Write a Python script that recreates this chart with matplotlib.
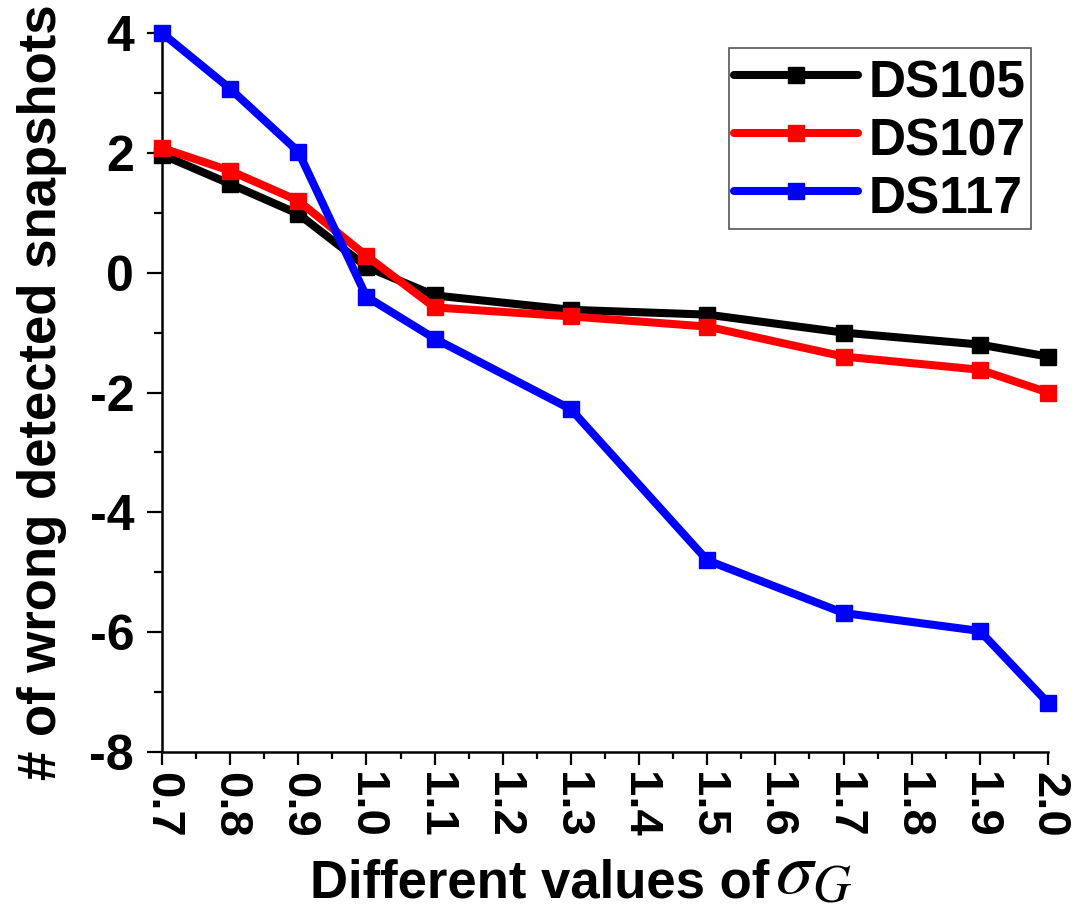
import matplotlib
matplotlib.use("Agg")
import matplotlib.pyplot as plt
from matplotlib.ticker import MultipleLocator

plt.rcParams['font.family'] = ['Liberation Sans', 'DejaVu Sans']
plt.rcParams['mathtext.fontset'] = 'stix'

sigma_g = [0.7, 0.8, 0.9, 1.0, 1.1, 1.3, 1.5, 1.7, 1.9, 2.0]
ds105 = [1.97, 1.48, 0.98, 0.1, -0.38, -0.62, -0.7, -1.0, -1.2, -1.4]
ds107 = [2.08, 1.7, 1.2, 0.28, -0.58, -0.73, -0.9, -1.4, -1.62, -2.0]
ds117 = [4.0, 3.07, 2.02, -0.4, -1.1, -2.28, -4.8, -5.68, -5.98, -7.18]
series_names = ["DS105", "DS107", "DS117"]
series_colors = ["#000000", "#ff0000", "#0000ff"]
x_ticks = [0.7, 0.8, 0.9, 1.0, 1.1, 1.2, 1.3, 1.4, 1.5, 1.6, 1.7, 1.8, 1.9, 2.0]
y_ticks = [-8, -6, -4, -2, 0, 2, 4]

W, H = 1075, 913
fig = plt.figure(figsize=(W / 100, H / 100), dpi=100)
ax = fig.add_axes([162 / W, 1 - 752 / H, (1048 - 162) / W, (752 - 33) / H])

for vals, name, col in zip([ds105, ds107, ds117], series_names, series_colors):
    ax.plot(sigma_g, vals, color=col, lw=5.8, marker='s', markersize=11,
            label=name, solid_joinstyle='round', solid_capstyle='round',
            clip_on=False, zorder=3)

ax.set_xlim(0.7, 2.0)
ax.set_ylim(-8, 4)
ax.set_xticks(x_ticks)
ax.set_xticklabels([f"{v:.1f}" for v in x_ticks], rotation=-90, fontsize=34,
                   fontweight='bold')
ax.set_yticks(y_ticks)
ax.set_yticklabels([str(v) for v in y_ticks], fontsize=36, fontweight='bold')
ax.xaxis.set_minor_locator(MultipleLocator(0.05))
ax.yaxis.set_minor_locator(MultipleLocator(1))
ax.tick_params(axis='y', which='major', direction='out', length=11, width=1.6, pad=9)
ax.tick_params(axis='x', which='major', direction='out', length=9.5, width=1.6, pad=5)
ax.tick_params(axis='y', which='minor', direction='out', length=6, width=1.6)
ax.tick_params(axis='x', which='minor', direction='out', length=5, width=1.6)

for s in ['top', 'right']:
    ax.spines[s].set_visible(False)
for s in ['left', 'bottom']:
    ax.spines[s].set_linewidth(1.8)

ax.set_ylabel("# of wrong detected snapshots", fontsize=38, fontweight='bold',
              labelpad=16)

# x label: plain text part plus a larger math sigma_G part
xl_text = fig.text(310 / W, 1 - 897 / H, "Different values of", fontsize=38,
                   fontweight='bold', ha='left', va='baseline')
fig.canvas.draw()
bb = xl_text.get_window_extent(fig.canvas.get_renderer())
fig.text((bb.x1 + 6) / W, 1 - 908 / H, r"$\sigma_G$", fontsize=54,
         ha='left', va='bottom')

leg = ax.legend(loc='upper right', bbox_to_anchor=((1031 - 162) / (1048 - 162), (752 - 48) / (752 - 33)),
                prop={'weight': 'bold', 'size': 37}, numpoints=1, handlelength=2.4,
                handleheight=1.22, fancybox=False, edgecolor='#555555', framealpha=1,
                borderpad=0.1, labelspacing=0.06, handletextpad=0.22,
                borderaxespad=0)
leg.get_frame().set_linewidth(1.2)
for ln in leg.get_lines():
    ln.set_solid_capstyle('round')

fig.savefig("out.png", dpi=100)
